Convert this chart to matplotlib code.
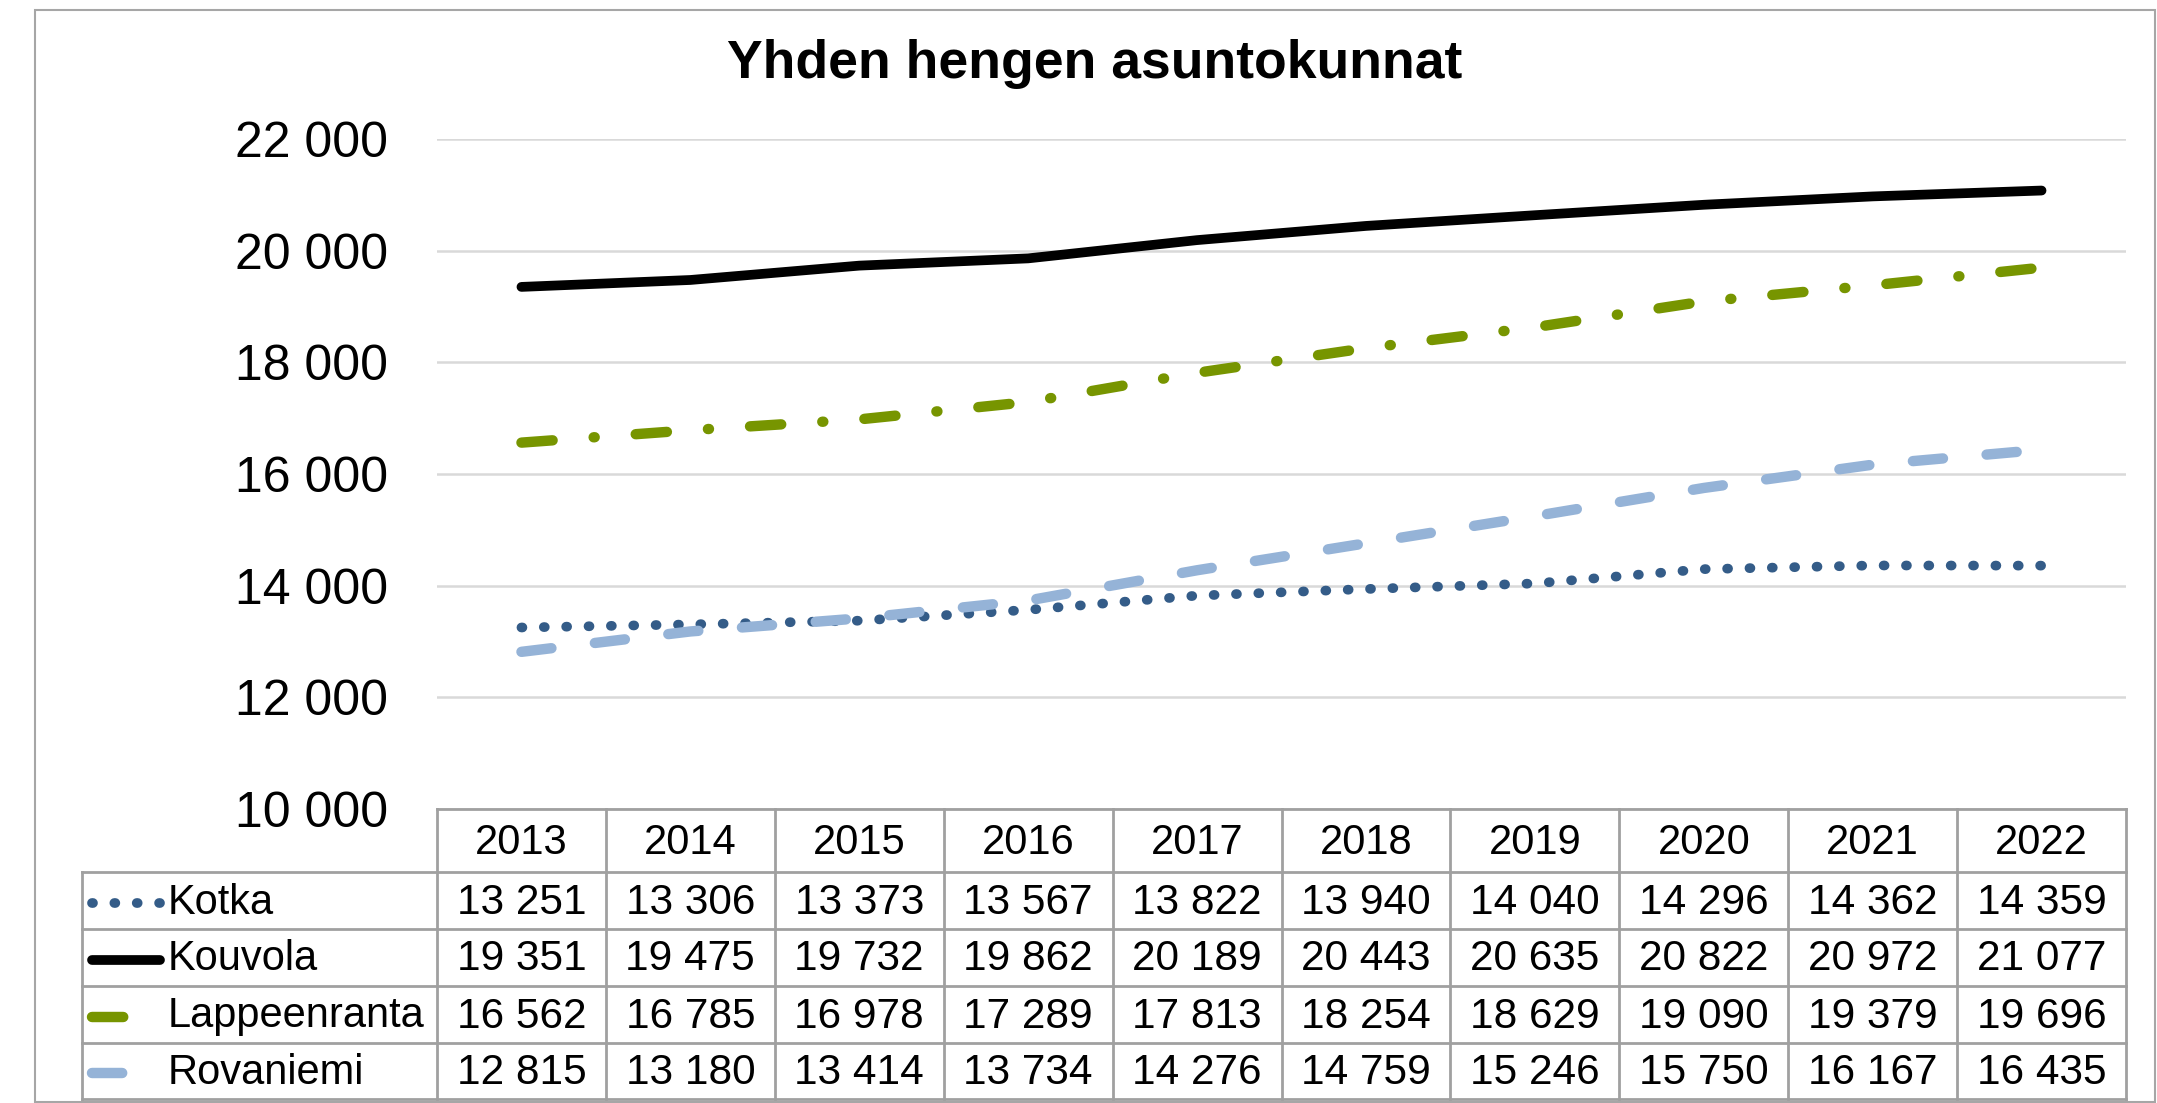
import matplotlib
matplotlib.use("Agg")
import matplotlib.pyplot as plt
from matplotlib.lines import Line2D
from matplotlib.patches import Rectangle
from matplotlib.transforms import blended_transform_factory

plt.rcParams['font.family'] = ['Liberation Sans', 'DejaVu Sans']

# Data
vuodet = [2013, 2014, 2015, 2016, 2017, 2018, 2019, 2020, 2021, 2022]
kotka = [13251, 13306, 13373, 13567, 13822, 13940, 14040, 14296, 14362, 14359]
kouvola = [19351, 19475, 19732, 19862, 20189, 20443, 20635, 20822, 20972, 21077]
lappeenranta = [16562, 16785, 16978, 17289, 17813, 18254, 18629, 19090, 19379, 19696]
rovaniemi = [12815, 13180, 13414, 13734, 14276, 14759, 15246, 15750, 16167, 16435]
kunnat = ["Kotka", "Kouvola", "Lappeenranta", "Rovaniemi"]
sarjat = [kotka, kouvola, lappeenranta, rovaniemi]
y_ticks = [10000, 12000, 14000, 16000, 18000, 20000, 22000]
otsikko = "Yhden hengen asuntokunnat"

# Tyylit
tyylit = [
    dict(color='#345C88', lw=7, dashes=(0.1, 2.2)),
    dict(color='black', lw=7, dashes=None),
    dict(color='#779500', lw=7.5, dashes=(3.0, 3.95, 0.1, 3.95)),
    dict(color='#95B3D7', lw=7.5, dashes=(2.9, 4.2)),
]

W, H = 2157, 1103
fig = plt.figure(figsize=(W / 100, H / 100), dpi=100)


def fx(px):
    return px / W


def fy(py):
    return 1 - py / H


def viiva_kw(tyyli):
    kw = dict(color=tyyli['color'], lw=tyyli['lw'], solid_capstyle='round', dash_capstyle='round')
    if tyyli['dashes']:
        kw['dashes'] = tyyli['dashes']
    return kw


# Kehys
fig.patches.append(Rectangle((fx(35), fy(1102)), fx(2155) - fx(35), fy(10) - fy(1102),
                             transform=fig.transFigure, fill=False, edgecolor='#A6A6A6', lw=1.5))

ax = fig.add_axes([fx(437), fy(809), fx(2126) - fx(437), (809 - 139) / H])
x = list(range(len(vuodet)))
for sarja, tyyli in zip(sarjat, tyylit):
    ax.plot(x, sarja, **viiva_kw(tyyli))

ax.set_xlim(-0.5, len(vuodet) - 0.5)
ax.set_ylim(10000, 22000)
ax.set_yticks(y_ticks)
ax.set_yticklabels([f"{v:,.0f}".replace(",", " ") for v in y_ticks], fontsize=36)
ax.tick_params(axis='y', length=0, pad=35)
ax.set_xticks([])
ax.grid(axis='y', color='#D9D9D9', lw=1.8)
ax.set_axisbelow(True)
for s in ax.spines.values():
    s.set_visible(False)

fig.text(fx(1095), fy(64), otsikko, ha='center', va='center', fontsize=38.5, fontweight='bold')

# Taulukko
tr = blended_transform_factory(ax.transData, fig.transFigure)
reuna = '#A0A0A0'
rivit = [809, 872, 929, 986, 1043, 1099]
n = len(vuodet)

fig.add_artist(Line2D([fx(437), fx(2126)], [fy(rivit[0])] * 2, transform=fig.transFigure, color=reuna, lw=2))
for r in rivit[1:]:
    fig.add_artist(Line2D([fx(82), fx(2126)], [fy(r)] * 2, transform=fig.transFigure, color=reuna, lw=2))
for i in range(n + 1):
    fig.add_artist(Line2D([i - 0.5, i - 0.5], [fy(rivit[0]), fy(rivit[-1])], transform=tr, color=reuna, lw=2))
fig.add_artist(Line2D([fx(82)] * 2, [fy(rivit[1]), fy(rivit[-1])], transform=fig.transFigure, color=reuna, lw=2))

for i, v in enumerate(vuodet):
    fig.text(i, fy((rivit[0] + rivit[1]) / 2 + 2), str(v), transform=tr, ha='center', va='center', fontsize=30)

for j, (nimi, sarja, tyyli) in enumerate(zip(kunnat, sarjat, tyylit)):
    yc = fy((rivit[j + 1] + rivit[j + 2]) / 2 + 2)
    for i, v in enumerate(sarja):
        fig.text(i, yc, f"{v:,.0f}".replace(",", " "), transform=tr, ha='center', va='center', fontsize=30.5)
    loppu = 160 if j < 2 else 126
    fig.add_artist(Line2D([fx(92), fx(loppu)], [yc, yc], transform=fig.transFigure, **viiva_kw(tyyli)))
    fig.text(fx(168), yc, nimi, ha='left', va='center', fontsize=30)

fig.savefig("out.png", dpi=100)
